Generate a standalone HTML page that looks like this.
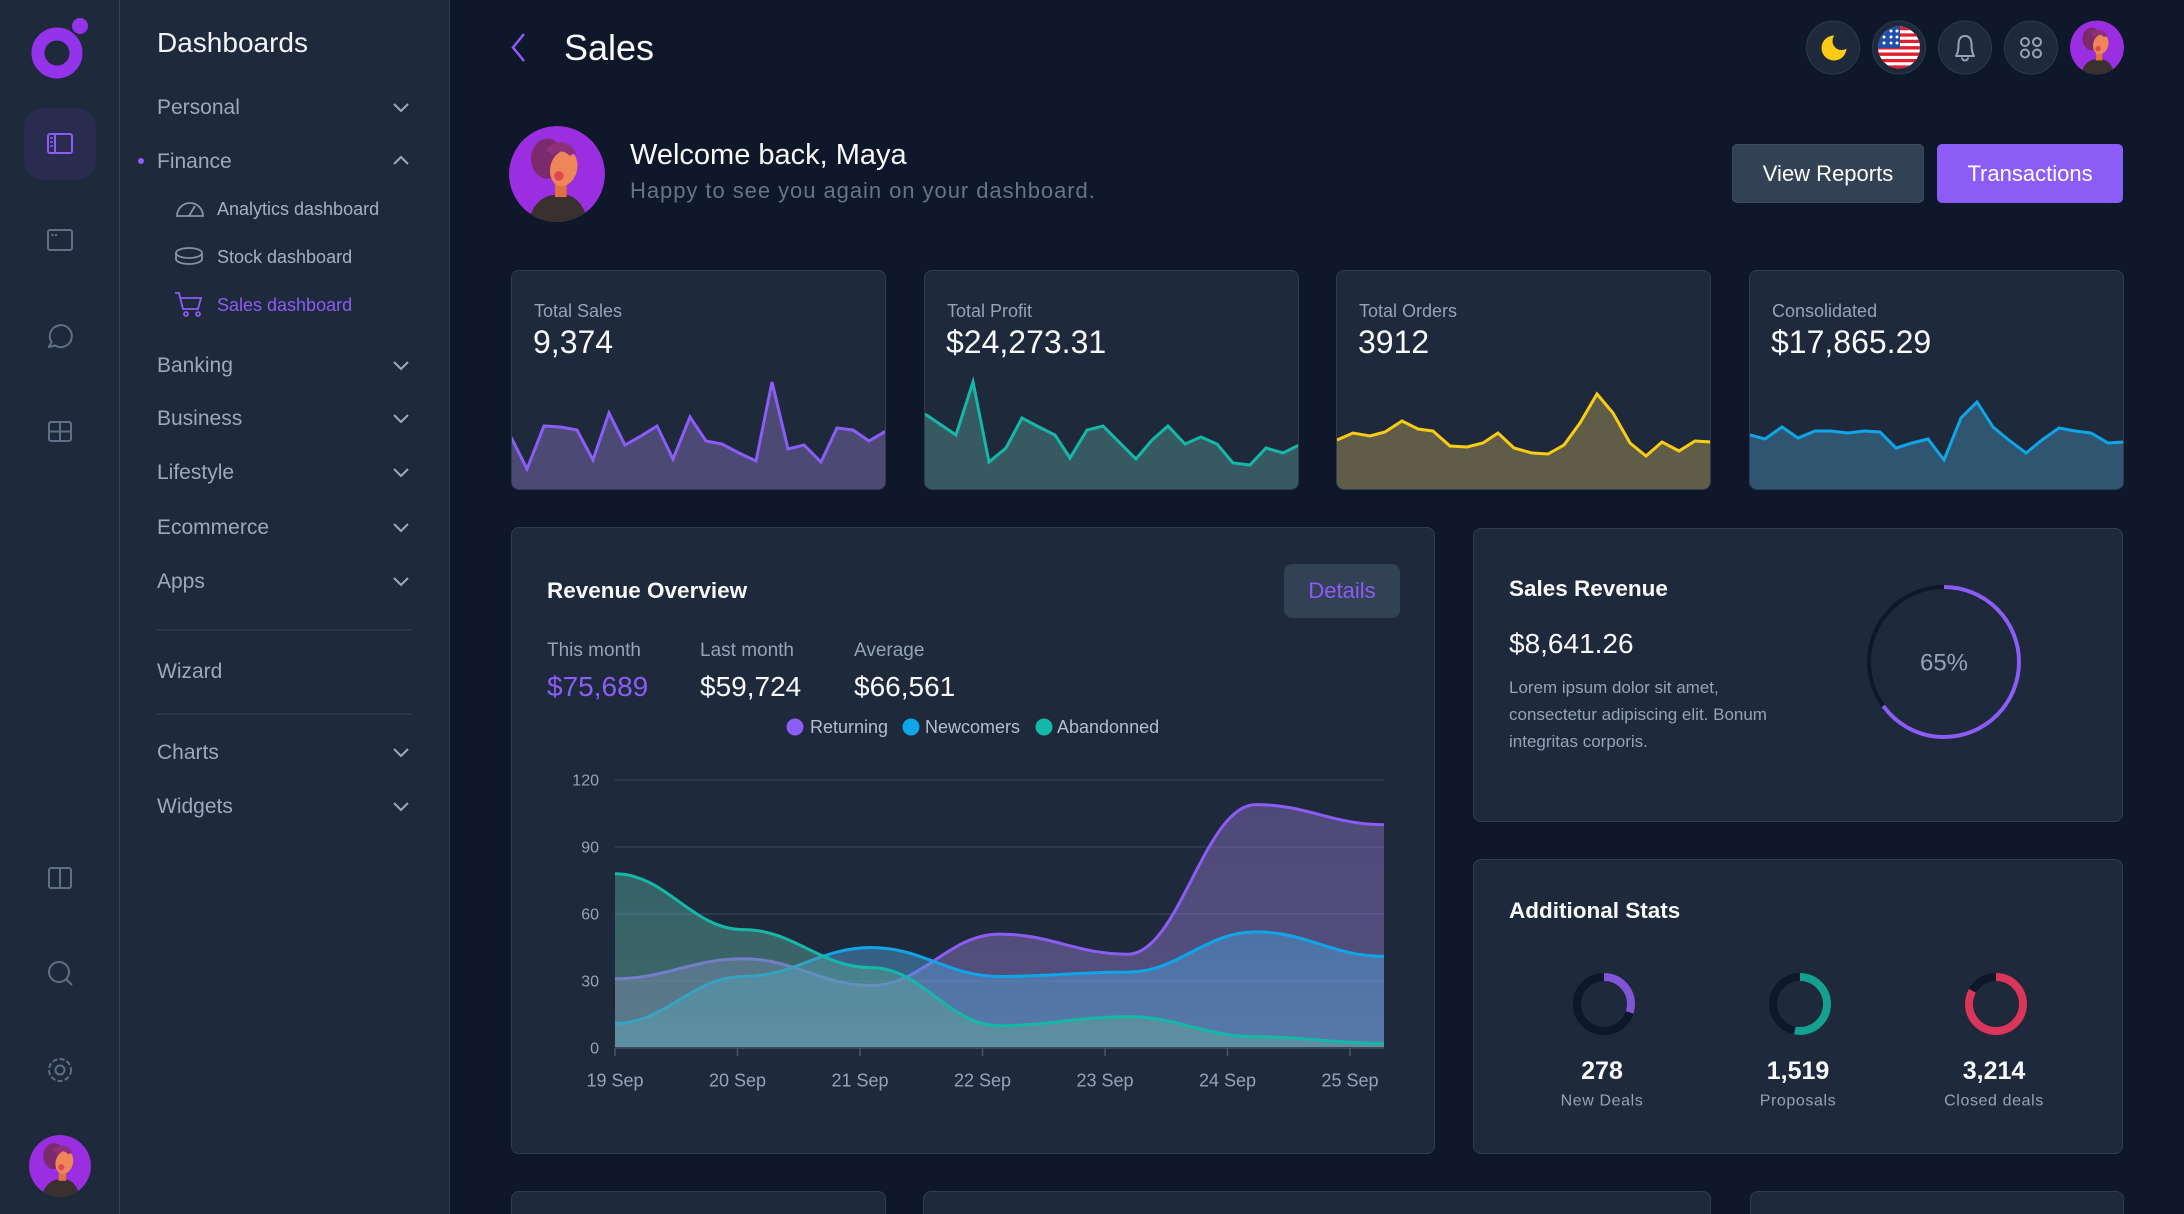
<!DOCTYPE html>
<html><head><meta charset="utf-8"><style>
*{box-sizing:border-box;margin:0;padding:0}
html,body{width:2184px;height:1214px;overflow:hidden;background:#0f172a;font-family:"Liberation Sans",Arial,sans-serif}
#root{position:relative;width:2184px;height:1214px;overflow:hidden;background:#0f172a}
.a{position:absolute;white-space:nowrap;z-index:2;line-height:1}
.card{position:absolute;background:#1e293b;border:1px solid #2f3c52;border-radius:8px;z-index:0}
.m{font-size:21px;color:#9ca9bd;left:157px}
.s{font-size:18px;color:#a3b1c6;left:217px}
.lbl{font-size:18px;color:#94a3b8}
.val{font-size:32px;color:#f8fafc}
.btn{position:absolute;border-radius:5px;z-index:2;font-size:22px;color:#fff;display:flex;align-items:center;justify-content:center}
svg.ov{position:absolute;left:0;top:0;z-index:1}
</style></head><body><div id="root">

<div style="position:absolute;left:0;top:0;width:120px;height:1214px;background:#1e293b;border-right:1px solid #334155"></div>
<div style="position:absolute;left:120px;top:0;width:330px;height:1214px;background:#1e293b;border-right:1px solid #2a3649"></div>

<div class="card" style="left:511px;top:270px;width:375px;height:220px"></div>
<div class="card" style="left:924px;top:270px;width:375px;height:220px"></div>
<div class="card" style="left:1336px;top:270px;width:375px;height:220px"></div>
<div class="card" style="left:1749px;top:270px;width:375px;height:220px"></div>
<div class="card" style="left:511px;top:527px;width:924px;height:627px"></div>
<div class="card" style="left:1473px;top:528px;width:650px;height:294px"></div>
<div class="card" style="left:1473px;top:859px;width:650px;height:295px"></div>
<div class="card" style="left:511px;top:1191px;width:375px;height:23px;border-bottom:none;border-radius:8px 8px 0 0"></div>
<div class="card" style="left:923px;top:1191px;width:788px;height:23px;border-bottom:none;border-radius:8px 8px 0 0"></div>
<div class="card" style="left:1750px;top:1191px;width:374px;height:23px;border-bottom:none;border-radius:8px 8px 0 0"></div>

<svg class="ov" width="2184" height="1214" viewBox="0 0 2184 1214" xmlns="http://www.w3.org/2000/svg">
<defs>
<symbol id="av" viewBox="0 0 100 100">
<clipPath id="avc"><circle cx="50" cy="50" r="50"/></clipPath>
<g clip-path="url(#avc)">
<circle cx="50" cy="50" r="50" fill="#9b2ee0"/>
<ellipse cx="40" cy="34" rx="17" ry="21" fill="#7b2a6e"/>
<path d="M20,100 Q26,76 44,72 L62,72 Q78,78 82,100 Z" fill="#3a3030"/>
<rect x="48" y="58" width="12" height="16" fill="#e0703f"/>
<ellipse cx="57" cy="44" rx="14" ry="19" fill="#ef8657" transform="rotate(15 57 44)"/>
<path d="M38,24 Q58,8 70,28 L63,31 Q55,22 45,31 Z" fill="#8e2f7a"/>
<circle cx="52" cy="52" r="5" fill="#e0484f"/>
</g>
</symbol>
<clipPath id="c1"><rect x="512" y="271" width="373" height="218" rx="7"/></clipPath>
<clipPath id="c2"><rect x="925" y="271" width="373" height="218" rx="7"/></clipPath>
<clipPath id="c3"><rect x="1337" y="271" width="373" height="218" rx="7"/></clipPath>
<clipPath id="c4"><rect x="1750" y="271" width="373" height="218" rx="7"/></clipPath>
<clipPath id="flag"><circle cx="1899" cy="47.5" r="21"/></clipPath>
<linearGradient id="gP" x1="0" y1="780" x2="0" y2="1048" gradientUnits="userSpaceOnUse"><stop offset="0" stop-color="#7e67b5"/><stop offset="1" stop-color="#8c78be"/></linearGradient>
<linearGradient id="gB" x1="0" y1="780" x2="0" y2="1048" gradientUnits="userSpaceOnUse"><stop offset="0" stop-color="#328bc9"/><stop offset="1" stop-color="#5aa0d2"/></linearGradient>
<linearGradient id="gT" x1="0" y1="780" x2="0" y2="1048" gradientUnits="userSpaceOnUse"><stop offset="0" stop-color="#40958d"/><stop offset="1" stop-color="#64a59b"/></linearGradient>
</defs>

<!-- logo -->
<circle cx="57" cy="53" r="19" fill="none" stroke="#9333ea" stroke-width="13"/>
<circle cx="80" cy="26" r="8" fill="#9333ea"/>
<!-- rail -->
<rect x="24" y="108" width="72" height="72" rx="20" fill="#2a2c4f"/>
<rect x="48" y="134" width="24" height="19" rx="2" fill="none" stroke="#8b5cf6" stroke-width="2"/>
<line x1="55" y1="134" x2="55" y2="153" stroke="#8b5cf6" stroke-width="2"/>
<path d="M50,138h3M50,142h3M50,146h3" stroke="#8b5cf6" stroke-width="1.5"/>
<rect x="48" y="230" width="24" height="20" rx="2" fill="none" stroke="#5f6f86" stroke-width="2"/>
<circle cx="52.5" cy="235" r="1.2" fill="#5f6f86"/><circle cx="56" cy="235" r="1.2" fill="#5f6f86"/>
<path d="M51.5,342 A11,11 0 1 1 55,345.5 L49,347 Z" fill="none" stroke="#5f6f86" stroke-width="2" stroke-linejoin="round"/>
<rect x="49" y="422" width="22" height="19" rx="2" fill="none" stroke="#5f6f86" stroke-width="2"/>
<path d="M60,422V441M49,431.5H71" stroke="#5f6f86" stroke-width="2"/>
<rect x="49" y="868" width="22" height="20" rx="2" fill="none" stroke="#5f6f86" stroke-width="2"/>
<path d="M60,868V888" stroke="#5f6f86" stroke-width="2"/>
<circle cx="59" cy="972" r="10" fill="none" stroke="#5f6f86" stroke-width="2"/>
<path d="M66,979L72,985" stroke="#5f6f86" stroke-width="2"/>
<circle cx="60" cy="1070" r="11" fill="none" stroke="#5f6f86" stroke-width="2" stroke-dasharray="5 2.3"/>
<circle cx="60" cy="1070" r="4.5" fill="none" stroke="#5f6f86" stroke-width="2"/>
<use href="#av" x="29" y="1135" width="62" height="62"/>

<!-- menu icons -->
<circle cx="141" cy="161" r="3" fill="#8b5cf6"/>
<g fill="none" stroke="#9ca9bd" stroke-width="2">
<path d="M394,104 401,111 408,104"/><path d="M394,164 401,157 408,164"/>
<path d="M394,362 401,369 408,362"/><path d="M394,415 401,422 408,415"/>
<path d="M394,469 401,476 408,469"/><path d="M394,524 401,531 408,524"/>
<path d="M394,578 401,585 408,578"/><path d="M394,749 401,756 408,749"/>
<path d="M394,803 401,810 408,803"/>
</g>
<g fill="none" stroke="#8593a8" stroke-width="1.8">
<path d="M177,216 A13,13 0 0 1 203,216 Z"/><path d="M189,216 L195,206"/>
<ellipse cx="189" cy="253" rx="13" ry="5"/><path d="M176,253 v6 a13,5 0 0 0 26,0 v-6"/>
</g>
<g fill="none" stroke="#8b5cf6" stroke-width="1.8">
<path d="M175,293 h4 l4,16 h15 l3,-11 h-20"/><circle cx="186" cy="314" r="2"/><circle cx="198" cy="314" r="2"/>
</g>
<path d="M156,630H413M156,714H413" stroke="#334155" stroke-width="1"/>

<!-- header -->
<path d="M524,34 513,47.5 524,61" fill="none" stroke="#8b5cf6" stroke-width="2.5"/>
<g fill="#1e293b" stroke="#2c3a4e" stroke-width="1">
<circle cx="1833" cy="47.5" r="26.5"/><circle cx="1899" cy="47.5" r="26.5"/>
<circle cx="1965" cy="47.5" r="26.5"/><circle cx="2031" cy="47.5" r="26.5"/>
</g>
<circle cx="1834" cy="48" r="12.5" fill="#facc15"/>
<circle cx="1841.5" cy="41" r="9" fill="#1e293b"/>
<g clip-path="url(#flag)">
<rect x="1878" y="26" width="42" height="43" fill="#fff"/>
<path d="M1878,28.6h42M1878,35h42M1878,41.4h42M1878,47.8h42M1878,54.2h42M1878,60.6h42M1878,67h42" stroke="#e11d2e" stroke-width="3.3"/>
<rect x="1878" y="26" width="22" height="22" fill="#1f4fa8"/>
<g fill="#fff"><circle cx="1884" cy="31" r="1.5"/><circle cx="1891" cy="31" r="1.5"/><circle cx="1897" cy="31" r="1.5"/><circle cx="1884" cy="37" r="1.5"/><circle cx="1891" cy="37" r="1.5"/><circle cx="1897" cy="37" r="1.5"/><circle cx="1884" cy="43" r="1.5"/><circle cx="1891" cy="43" r="1.5"/><circle cx="1897" cy="43" r="1.5"/></g>
</g>
<path d="M1956,56 Q1958.5,52 1958.5,45 Q1958.5,36 1965,36 Q1971.5,36 1971.5,45 Q1971.5,52 1974,56 Z" fill="none" stroke="#94a3b8" stroke-width="2" stroke-linejoin="round"/>
<path d="M1962,57.5 a3,3 0 0 0 6,0" fill="none" stroke="#94a3b8" stroke-width="2"/>
<g fill="none" stroke="#94a3b8" stroke-width="2"><circle cx="2025" cy="42" r="4"/><circle cx="2037" cy="42" r="4"/><circle cx="2025" cy="53.5" r="4"/><circle cx="2037" cy="53.5" r="4"/></g>
<use href="#av" x="2070" y="20.5" width="54" height="54"/>
<use href="#av" x="509" y="126" width="96" height="96"/>

<!-- sparklines -->
<g clip-path="url(#c1)">
<polygon fill="#4c4a74" points="511,437 527,469 544,426 560,427 577,430 593,460 609,413 625,445 641,436 657,426 673,459 690,417 706,441 722,444 739,453 756,461 772,382 788,449 804,445 821,462 837,428 853,430 869,441 886,431 886,490 511,490"/>
<polyline fill="none" stroke="#8b5cf6" stroke-width="3" points="511,437 527,469 544,426 560,427 577,430 593,460 609,413 625,445 641,436 657,426 673,459 690,417 706,441 722,444 739,453 756,461 772,382 788,449 804,445 821,462 837,428 853,430 869,441 886,431"/>
</g>
<g clip-path="url(#c2)">
<polygon fill="#375a62" points="925,414 956,435 973,382 989,462 1006,448 1022,418 1039,427 1055,435 1070,458 1087,430 1103,426 1119,442 1136,459 1152,440 1168,426 1185,444 1201,437 1217,444 1233,463 1250,465 1266,448 1283,453 1299,445 1299,490 925,490"/>
<polyline fill="none" stroke="#14b8a6" stroke-width="3" points="925,414 956,435 973,382 989,462 1006,448 1022,418 1039,427 1055,435 1070,458 1087,430 1103,426 1119,442 1136,459 1152,440 1168,426 1185,444 1201,437 1217,444 1233,463 1250,465 1266,448 1283,453 1299,445"/>
</g>
<g clip-path="url(#c3)">
<polygon fill="#5f5c48" points="1337,440 1353,433 1370,436 1385,432 1402,421 1418,429 1433,431 1450,446 1467,447 1483,443 1498,433 1514,448 1532,453 1548,454 1564,445 1580,423 1597,394 1613,413 1630,443 1646,456 1662,442 1679,451 1695,441 1711,442 1711,490 1337,490"/>
<polyline fill="none" stroke="#facc15" stroke-width="3" points="1337,440 1353,433 1370,436 1385,432 1402,421 1418,429 1433,431 1450,446 1467,447 1483,443 1498,433 1514,448 1532,453 1548,454 1564,445 1580,423 1597,394 1613,413 1630,443 1646,456 1662,442 1679,451 1695,441 1711,442"/>
</g>
<g clip-path="url(#c4)">
<polygon fill="#305570" points="1750,435 1765,439 1782,427 1798,438 1815,431 1831,431 1848,433 1864,431 1880,432 1896,448 1912,443 1928,439 1944,460 1961,418 1977,402 1993,427 2010,441 2026,453 2042,440 2059,428 2075,431 2091,433 2108,443 2124,442 2124,490 1750,490"/>
<polyline fill="none" stroke="#0ea5e9" stroke-width="3" points="1750,435 1765,439 1782,427 1798,438 1815,431 1831,431 1848,433 1864,431 1880,432 1896,448 1912,443 1928,439 1944,460 1961,418 1977,402 1993,427 2010,441 2026,453 2042,440 2059,428 2075,431 2091,433 2108,443 2124,442"/>
</g>

<!-- revenue chart -->
<path d="M615,780H1384M615,847H1384M615,914H1384M615,981H1384" stroke="#334155" stroke-width="1.5"/>
<path fill="url(#gP)" fill-opacity="0.5" d="M615,978.8 C666.3,978.8 691.9,958.7 743.2,958.7 C794.5,958.7 820,985.5 871.3,985.5 C922.6,985.5 948.2,934.1 999.5,934.1 C1050.8,934.1 1076.4,954.2 1127.7,954.2 C1179,954.2 1204.5,804.6 1255.8,804.6 C1307.1,804.6 1332.7,824.7 1384,824.7 L1384,1048 L615,1048 Z"/>
<path fill="none" stroke="#8b5cf6" stroke-width="3" d="M615,978.8 C666.3,978.8 691.9,958.7 743.2,958.7 C794.5,958.7 820,985.5 871.3,985.5 C922.6,985.5 948.2,934.1 999.5,934.1 C1050.8,934.1 1076.4,954.2 1127.7,954.2 C1179,954.2 1204.5,804.6 1255.8,804.6 C1307.1,804.6 1332.7,824.7 1384,824.7"/>
<path fill="url(#gB)" fill-opacity="0.5" d="M615,1023.4 C666.3,1023.4 691.9,976.5 743.2,976.5 C794.5,976.5 820,947.5 871.3,947.5 C922.6,947.5 948.2,976.5 999.5,976.5 C1050.8,976.5 1076.4,972.1 1127.7,972.1 C1179,972.1 1204.5,931.9 1255.8,931.9 C1307.1,931.9 1332.7,956.4 1384,956.4 L1384,1048 L615,1048 Z"/>
<path fill="none" stroke="#0ea5e9" stroke-width="3" d="M615,1023.4 C666.3,1023.4 691.9,976.5 743.2,976.5 C794.5,976.5 820,947.5 871.3,947.5 C922.6,947.5 948.2,976.5 999.5,976.5 C1050.8,976.5 1076.4,972.1 1127.7,972.1 C1179,972.1 1204.5,931.9 1255.8,931.9 C1307.1,931.9 1332.7,956.4 1384,956.4"/>
<path fill="url(#gT)" fill-opacity="0.5" d="M615,873.8 C666.3,873.8 691.9,929.6 743.2,929.6 C794.5,929.6 820,967.6 871.3,967.6 C922.6,967.6 948.2,1025.7 999.5,1025.7 C1050.8,1025.7 1076.4,1016.7 1127.7,1016.7 C1179,1016.7 1204.5,1036.8 1255.8,1036.8 C1307.1,1036.8 1332.7,1043.5 1384,1043.5 L1384,1048 L615,1048 Z"/>
<path fill="none" stroke="#14b8a6" stroke-width="3" d="M615,873.8 C666.3,873.8 691.9,929.6 743.2,929.6 C794.5,929.6 820,967.6 871.3,967.6 C922.6,967.6 948.2,1025.7 999.5,1025.7 C1050.8,1025.7 1076.4,1016.7 1127.7,1016.7 C1179,1016.7 1204.5,1036.8 1255.8,1036.8 C1307.1,1036.8 1332.7,1043.5 1384,1043.5"/>
<path d="M615,1048H1384" stroke="#3a475a" stroke-width="2"/>
<path d="M615,1048v8M737.5,1048v8M860,1048v8M982.5,1048v8M1105,1048v8M1227.5,1048v8M1350,1048v8" stroke="#475569" stroke-width="1.5"/>
<g font-family="Liberation Sans, Arial, sans-serif" font-size="16" fill="#94a3b8" text-anchor="end">
<text x="599" y="785.6">120</text><text x="599" y="852.6">90</text><text x="599" y="919.6">60</text><text x="599" y="986.6">30</text><text x="599" y="1053.6">0</text>
</g>
<g font-family="Liberation Sans, Arial, sans-serif" font-size="18" fill="#94a3b8" text-anchor="middle">
<text x="615" y="1086.3">19 Sep</text><text x="737.5" y="1086.3">20 Sep</text><text x="860" y="1086.3">21 Sep</text><text x="982.5" y="1086.3">22 Sep</text><text x="1105" y="1086.3">23 Sep</text><text x="1227.5" y="1086.3">24 Sep</text><text x="1350" y="1086.3">25 Sep</text>
</g>
<circle cx="795" cy="727" r="8.5" fill="#8b5cf6"/>
<circle cx="911" cy="727" r="8.5" fill="#0ea5e9"/>
<circle cx="1044" cy="727" r="8.5" fill="#14b8a6"/>

<!-- sales revenue donut -->
<circle cx="1944" cy="662" r="75" fill="none" stroke="#0f172a" stroke-width="4"/>
<circle cx="1944" cy="662" r="75" fill="none" stroke="#8b5cf6" stroke-width="4" stroke-dasharray="306.3 500" transform="rotate(-90 1944 662)"/>
<text x="1944" y="670.5" font-family="Liberation Sans, Arial, sans-serif" font-size="24" fill="#94a3b8" text-anchor="middle">65%</text>

<!-- additional stats donuts -->
<g fill="none" stroke-width="8">
<circle cx="1604" cy="1004" r="27" stroke="#0f172a"/>
<circle cx="1604" cy="1004" r="27" stroke="#8155d8" stroke-dasharray="50.9 200" transform="rotate(-90 1604 1004)"/>
<circle cx="1800" cy="1004" r="27" stroke="#0f172a"/>
<circle cx="1800" cy="1004" r="27" stroke="#14a08e" stroke-dasharray="89.9 200" transform="rotate(-90 1800 1004)"/>
<circle cx="1996" cy="1004" r="27" stroke="#0f172a"/>
<circle cx="1996" cy="1004" r="27" stroke="#d9365a" stroke-dasharray="140.8 200" transform="rotate(-90 1996 1004)"/>
</g>
<g font-family="Liberation Sans, Arial, sans-serif" text-anchor="middle">
<text x="1602" y="1079" font-size="25" font-weight="bold" fill="#f8fafc">278</text>
<text x="1798" y="1079" font-size="25" font-weight="bold" fill="#f8fafc">1,519</text>
<text x="1994" y="1079" font-size="25" font-weight="bold" fill="#f8fafc">3,214</text>
<text x="1602" y="1105.7" font-size="16" fill="#94a3b8" letter-spacing="0.6">New Deals</text>
<text x="1798" y="1105.7" font-size="16" fill="#94a3b8" letter-spacing="0.6">Proposals</text>
<text x="1994" y="1105.7" font-size="16" fill="#94a3b8" letter-spacing="0.6">Closed deals</text>
</g>
</svg>

<!-- sidebar text -->
<div class="a" style="left:157px;top:29px;font-size:28px;color:#f1f5f9">Dashboards</div>
<div class="a m" style="top:96.5px">Personal</div>
<div class="a m" style="top:150.5px">Finance</div>
<div class="a s" style="top:200px">Analytics dashboard</div>
<div class="a s" style="top:248px">Stock dashboard</div>
<div class="a s" style="top:296px;color:#8b5cf6">Sales dashboard</div>
<div class="a m" style="top:354.5px">Banking</div>
<div class="a m" style="top:407.5px">Business</div>
<div class="a m" style="top:461.5px">Lifestyle</div>
<div class="a m" style="top:516.5px">Ecommerce</div>
<div class="a m" style="top:570.5px">Apps</div>
<div class="a m" style="top:660.5px">Wizard</div>
<div class="a m" style="top:741.5px">Charts</div>
<div class="a m" style="top:795.5px">Widgets</div>

<!-- header text -->
<div class="a" style="left:564px;top:30px;font-size:36px;color:#f8fafc">Sales</div>
<div class="a" style="left:630px;top:140.5px;font-size:29px;color:#f8fafc">Welcome back, Maya</div>
<div class="a" style="left:630px;top:180px;font-size:22px;color:#64748b;letter-spacing:0.95px">Happy to see you again on your dashboard.</div>
<div class="btn" style="left:1732px;top:144px;width:192px;height:59px;background:#334155;border:1px solid #3b4a60">View Reports</div>
<div class="btn" style="left:1937px;top:144px;width:186px;height:59px;background:#8b5cf6">Transactions</div>

<!-- stat cards -->
<div class="a lbl" style="left:534px;top:302px">Total Sales</div>
<div class="a val" style="left:533px;top:326px">9,374</div>
<div class="a lbl" style="left:947px;top:302px">Total Profit</div>
<div class="a val" style="left:946px;top:326px">$24,273.31</div>
<div class="a lbl" style="left:1359px;top:302px">Total Orders</div>
<div class="a val" style="left:1358px;top:326px">3912</div>
<div class="a lbl" style="left:1772px;top:302px">Consolidated</div>
<div class="a val" style="left:1771px;top:326px">$17,865.29</div>

<!-- revenue overview -->
<div class="a" style="left:547px;top:580px;font-size:22.5px;font-weight:bold;color:#f8fafc">Revenue Overview</div>
<div class="btn" style="left:1284px;top:564px;width:116px;height:54px;background:#334155;border-radius:8px;color:#8b5cf6">Details</div>
<div class="a" style="left:547px;top:641px;font-size:19px;color:#94a3b8">This month</div>
<div class="a" style="left:700px;top:641px;font-size:19px;color:#94a3b8">Last month</div>
<div class="a" style="left:854px;top:641px;font-size:19px;color:#94a3b8">Average</div>
<div class="a" style="left:547px;top:673px;font-size:28px;color:#8b5cf6">$75,689</div>
<div class="a" style="left:700px;top:673px;font-size:28px;color:#f8fafc">$59,724</div>
<div class="a" style="left:854px;top:673px;font-size:28px;color:#f8fafc">$66,561</div>
<div class="a" style="left:810px;top:718px;font-size:18px;color:#b4bfcd">Returning</div>
<div class="a" style="left:925px;top:718px;font-size:18px;color:#b4bfcd">Newcomers</div>
<div class="a" style="left:1057px;top:718px;font-size:18px;color:#b4bfcd">Abandonned</div>

<!-- sales revenue -->
<div class="a" style="left:1509px;top:578px;font-size:22.5px;font-weight:bold;color:#f8fafc">Sales Revenue</div>
<div class="a" style="left:1509px;top:630px;font-size:28px;color:#f8fafc">$8,641.26</div>
<div class="a" style="left:1509px;top:673.5px;font-size:17px;line-height:27px;color:#94a3b8">Lorem ipsum dolor sit amet,<br>consectetur adipiscing elit. Bonum<br>integritas corporis.</div>

<!-- additional stats -->
<div class="a" style="left:1509px;top:900px;font-size:22.5px;font-weight:bold;color:#f8fafc">Additional Stats</div>

</div></body></html>
